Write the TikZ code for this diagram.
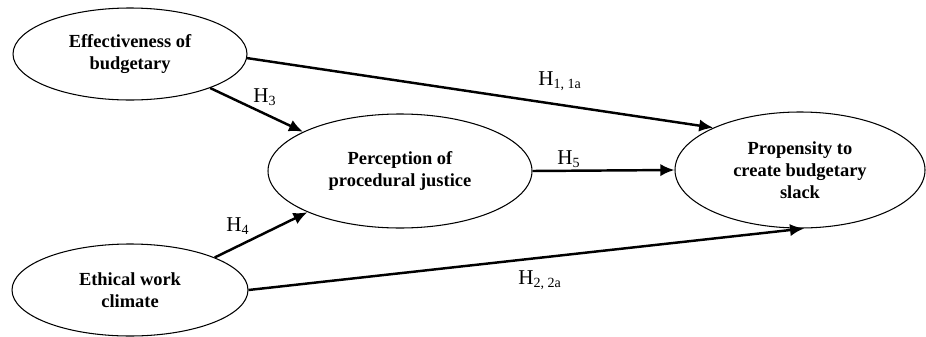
\documentclass[tikz,border=0pt]{standalone}
\usepackage{fontspec}
\setmainfont{Liberation Serif}
\usetikzlibrary{shapes.geometric,arrows.meta}

\begin{document}
\begin{tikzpicture}[
		construct/.style={draw, ellipse, line width=0.6pt, inner sep=0pt, align=center,
			font=\fontsize{10.5}{12.5}\selectfont\bfseries},
		path/.style={line width=1.4pt, -{Latex[length=8pt,width=7pt]}},
		hyp/.style={font=\fontsize{12}{14}\selectfont}
	]
		\useasboundingbox (0,0) rectangle (18.52,-6.72);

		\node[construct, minimum width=4.68cm, minimum height=1.84cm] (eff) at (2.6,-1.08) {Effectiveness of\\budgetary};
		\node[construct, minimum width=5.28cm, minimum height=2.28cm] (perc) at (8.0,-3.42) {Perception of\\procedural justice};
		\node[construct, minimum width=5.0cm, minimum height=2.32cm] (prop) at (16.0,-3.40) {Propensity to\\create budgetary\\slack};
		\node[construct, minimum width=4.72cm, minimum height=1.84cm] (eth) at (2.6,-5.8) {Ethical work\\climate};

		\draw[path] (eff.-2) -- (prop.154);
		\draw[path] (eff.-23) -- (perc.158);
		\draw[path] (perc.east) -- (prop.west);
		\draw[path] (eth.21) -- (perc.204);
		\draw[path] (eth.east) -- (prop.-86);

		\node[hyp] (h1) at (11.2,-1.62) {H\textsubscript{1, 1a}};
		\node[hyp] (h3) at (5.3,-1.94) {H\textsubscript{3}};
		\node[hyp] (h5) at (11.38,-3.18) {H\textsubscript{5}};
		\node[hyp] (h4) at (4.76,-4.52) {H\textsubscript{4}};
		\node[hyp] (h2) at (10.8,-5.6) {H\textsubscript{2, 2a}};
	\end{tikzpicture}
\end{document}
